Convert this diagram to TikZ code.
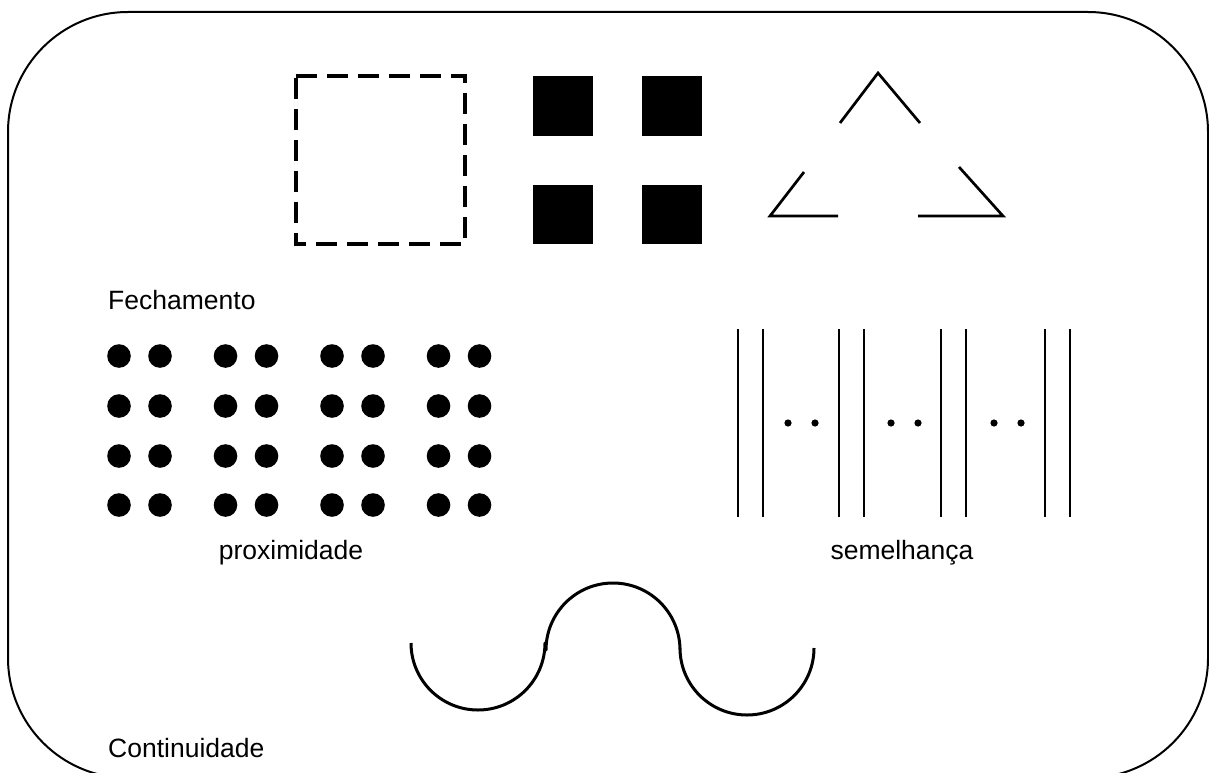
\documentclass[tikz,border=0pt]{standalone}
\usepackage{fontspec}
\setmainfont{Liberation Sans}
\begin{document}
\begin{tikzpicture}[x=1pt,y=1pt]
\tikzset{
  lbl/.style={inner sep=0pt, font=\fontsize{26.5}{30}\selectfont},
  fig/.style={line width=2.7pt},
  dashbox/.style={line width=3.5pt, dash pattern=on 21pt off 10pt},
  vline/.style={line width=2pt},
  frame/.style={line width=2pt, rounded corners=120pt}
}
\useasboundingbox (0,0) rectangle (1209,-773);
\clip (0,0) rectangle (1209,-773);
\draw[frame] (8,-12) rectangle (1208,-778);
% Fechamento figures
\draw[dashbox] (296,-76) -- (465,-76) -- (465,-244) -- (296,-244) -- cycle;
\fill (533,-76) rectangle ++(60,-60);
\fill (642,-76) rectangle ++(60,-60);
\fill (533,-185) rectangle ++(60,-59);
\fill (642,-185) rectangle ++(60,-59);
\draw[fig] (840,-123) -- (878,-73) -- (920,-123);
\draw[fig] (804,-172) -- (770,-216) -- (838,-216);
\draw[fig] (959,-167) -- (1003,-216) -- (918,-216);
% proximidade dots
\foreach \g in {0,...,3}
  \foreach \i in {0,1}
    \foreach \r in {356,406,456,505}
      \fill (119+106.5*\g+41*\i,-\r) circle (11.8);
% semelhanca lines
\foreach \x in {738,763,839,864,941,966,1045,1070}
  \draw[vline] (\x,-329) -- (\x,-517);
\foreach \x in {788,815,891,918,994,1021}
  \fill (\x,-423) circle (3.6);
% continuidade curve
\draw[line width=3pt, line join=round] (411,-643) arc[start angle=180,end angle=360,radius=67]
  -- (546,-650) arc[start angle=180,end angle=0,radius=67]
  -- (680,-648) arc[start angle=180,end angle=360,radius=67];
% labels
\node[lbl, anchor=base west] (fech) at (108,-309) {Fechamento};
\node[lbl, anchor=base] (prox) at (291,-559) {proximidade};
\node[lbl, anchor=base] (seme) at (902,-559) {semelhança};
\node[lbl, anchor=base west] (cont) at (108,-757) {Continuidade};
\end{tikzpicture}
\end{document}
